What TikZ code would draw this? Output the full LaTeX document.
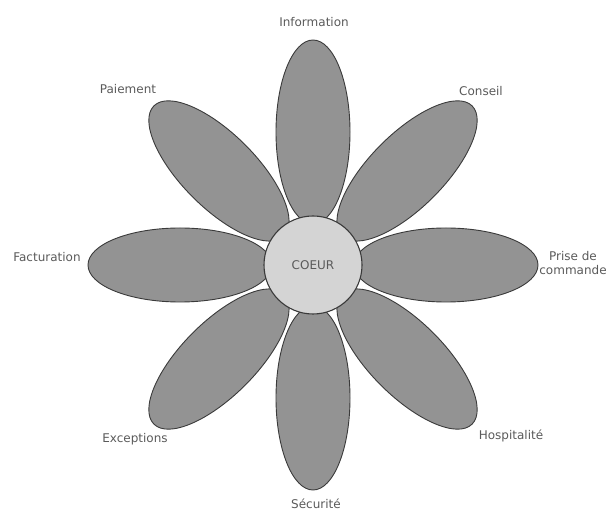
\documentclass[tikz,border=0pt]{standalone}
\usepackage{fontspec}
\setmainfont{DejaVu Sans}
\usetikzlibrary{shapes.geometric,calc}
\definecolor{petalfill}{HTML}{939393}
\definecolor{petalline}{HTML}{3A3A3A}
\definecolor{heartfill}{HTML}{D4D4D4}
\definecolor{labelgray}{HTML}{5A5A5A}
\tikzset{
  petal/.style={ellipse, draw=petalline, fill=petalfill, line width=0.9pt,
    minimum width=184pt, minimum height=74pt, inner sep=0pt},
  heart/.style={circle, draw=petalline, fill=heartfill, line width=1.1pt,
    minimum size=98pt, inner sep=0pt, text=labelgray, font=\fontsize{12}{14}\selectfont},
  lab/.style={text=labelgray, font=\fontsize{12}{14}\selectfont, inner sep=0pt, align=center}
}
\begin{document}
\begin{tikzpicture}[x=1pt,y=1pt]
\useasboundingbox (0,0) rectangle (609,513);
\coordinate (c) at (313,248);
\foreach \a/\n in {0/pe,45/pne,90/pn,135/pnw,180/pw,225/psw,270/ps,315/pse}{
  \node[petal, rotate=\a] (\n) at ($(c)+(\a:133)$) {};
}
\node[heart] (coeur) at (c) {COEUR};
\node[lab] (info) at (314,491) {Information};
\node[lab] (cons) at (481,422) {Conseil};
\node[lab] (prise) at (573,250) {Prise de\\commande};
\node[lab] (hosp) at (511,77) {Hospitalité};
\node[lab] (secu) at (316,9) {Sécurité};
\node[lab] (exc) at (135,74) {Exceptions};
\node[lab] (fact) at (47,256) {Facturation};
\node[lab] (paie) at (128,424) {Paiement};
\end{tikzpicture}
\end{document}
